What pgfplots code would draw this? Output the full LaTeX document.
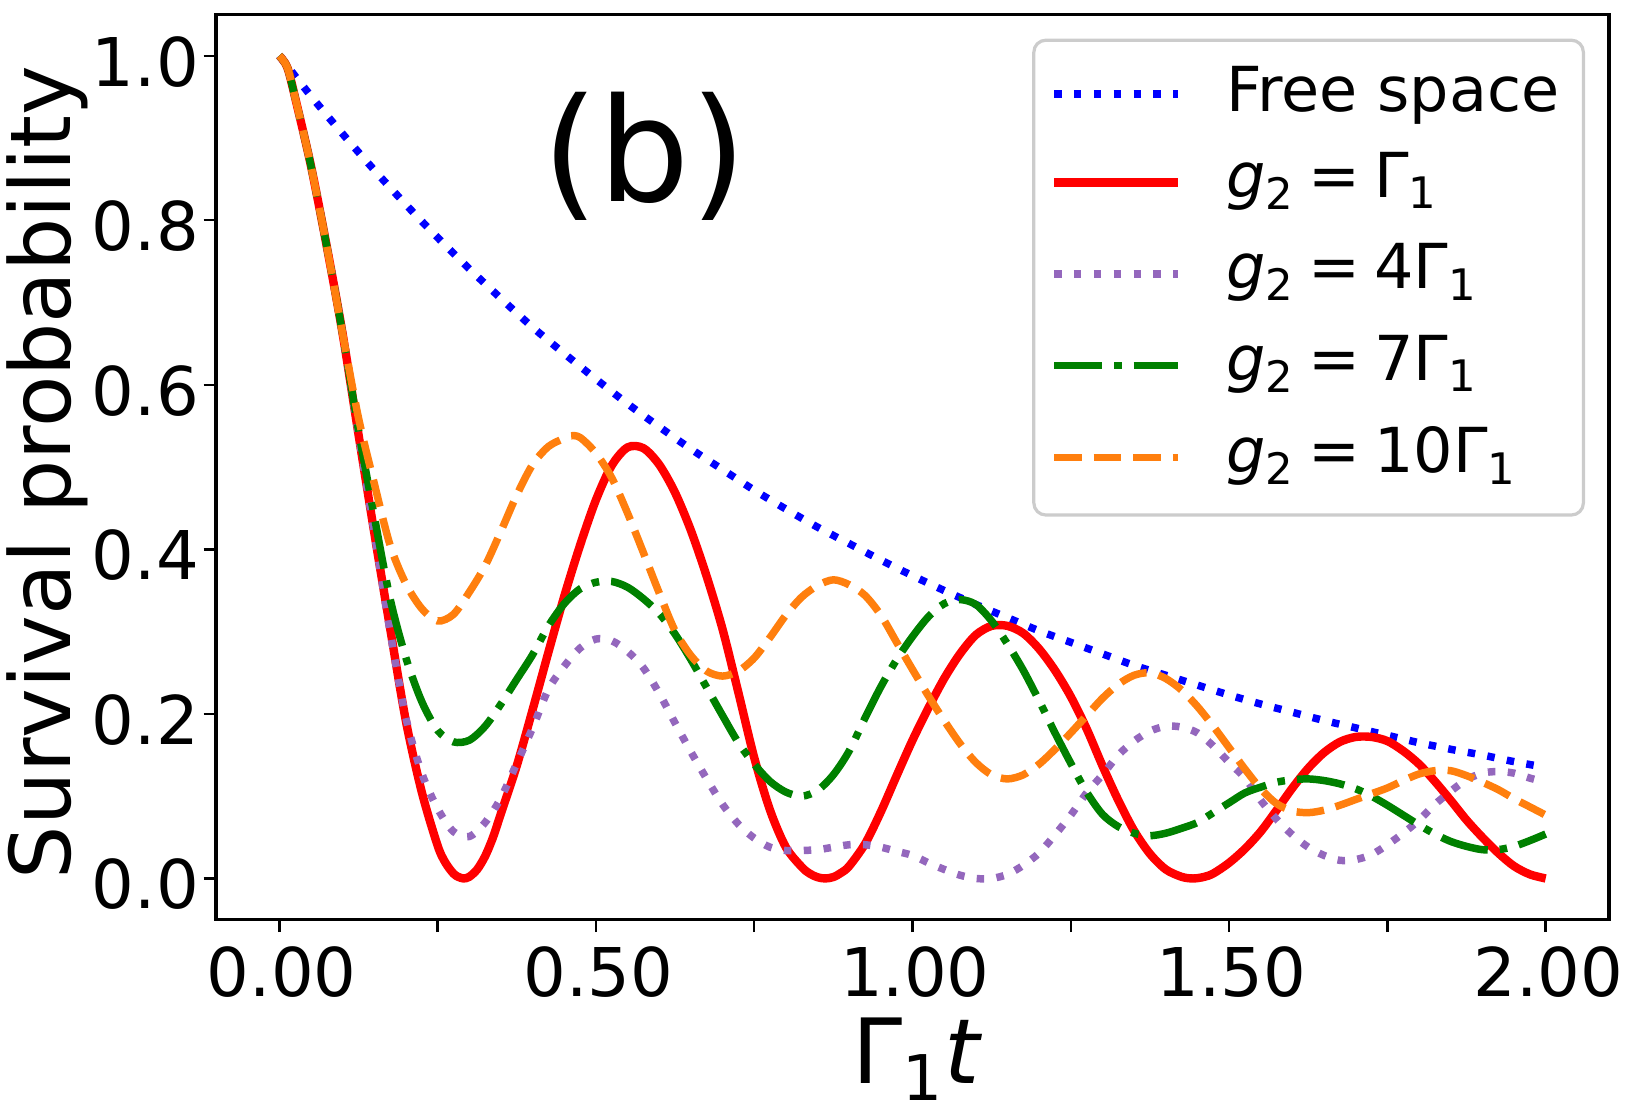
\documentclass[border=0pt]{standalone}
\usepackage{fontspec}
\setmainfont{DejaVu Sans}
\usepackage{pgfplots}
\pgfplotsset{compat=1.18}
\definecolor{tabpurple}{HTML}{9467BD}
\definecolor{taborange}{HTML}{FF7F0E}
\definecolor{mgreen}{HTML}{008000}
\newcommand{\gl}[1]{\rule[-4pt]{0pt}{15pt}\textit{g}\textsubscript{2}\hspace{0.22em}=\hspace{0.22em}#1Γ\textsubscript{1}}
\begin{document}
\begin{tikzpicture}
\begin{axis}[
  scale only axis, width=348.25pt, height=226.25pt,
  xmin=-0.1, xmax=2.1, ymin=-0.05, ymax=1.05,
  xtick={0,0.25,...,2}, xticklabels={0.00,,0.50,,1.00,,1.50,,2.00},
  ytick={0,0.2,0.4,0.6,0.8,1.0}, yticklabels={0.0,0.2,0.4,0.6,0.8,1.0},
  xtick pos=lower, ytick pos=left, tick align=outside,
  major tick length=3.1pt, tick style={line width=0.6pt, black},
  axis line style={line width=0.9pt},
  ticklabel style={font=\fontsize{16.8}{19}\selectfont},
  xticklabel style={xshift=0.6pt},
  yticklabel style={inner xsep=1pt, yshift=-1.5pt},
  xlabel={Γ\textsubscript{1}\textit{t}}, ylabel={Survival probability},
  xlabel style={font=\fontsize{22.5}{26}\selectfont, inner sep=0pt, at={(axis description cs:0.5037,-0.1078)}, anchor=north},
  ylabel style={font=\fontsize{21}{25}\selectfont, at={(axis description cs:-0.082,0.494)}, anchor=south},
  legend cell align=left,
  legend image code/.code={\draw[#1] (0pt,0pt) -- (31pt,0pt);},
  legend style={at={(1,1)}, anchor=north east, xshift=-6pt, yshift=-6pt,
    draw=black!20, line width=0.8pt, rounded corners=3pt,
    inner xsep=4pt, inner ysep=4.6pt,
    font=\fontsize{15.5}{18}\selectfont, row sep=3.6pt,
    nodes={inner ysep=2pt, text depth=},
    /tikz/every odd column/.append style={column sep=9pt}},
]
\addplot[blue, line width=1.87pt, dash pattern=on 1.87pt off 3.1pt, smooth] coordinates {
(0,1.000)(0.05,0.951)(0.1,0.905)(0.15,0.861)(0.2,0.819)(0.25,0.779)(0.3,0.741)(0.35,0.705)(0.4,0.670)(0.45,0.638)(0.5,0.607)(0.55,0.577)(0.6,0.549)(0.65,0.522)(0.7,0.497)(0.75,0.472)(0.8,0.449)(0.85,0.427)(0.9,0.407)(0.95,0.387)(1.0,0.368)(1.05,0.350)(1.1,0.333)(1.15,0.317)(1.2,0.301)(1.25,0.287)(1.3,0.273)(1.35,0.259)(1.4,0.247)(1.45,0.235)(1.5,0.223)(1.55,0.212)(1.6,0.202)(1.65,0.192)(1.7,0.183)(1.75,0.174)(1.8,0.165)(1.85,0.157)(1.9,0.150)(1.95,0.142)(2.0,0.135)};
\addlegendentry{\raisebox{0pt}[\height][2.4pt]{Free space}}
\addplot[red, line width=2.1pt, smooth] coordinates {
(0,1.0)(0.0125,0.986)(0.025,0.949)(0.05,0.866)(0.075,0.768)(0.1,0.662)(0.125,0.54)(0.15,0.42)(0.175,0.304)(0.2,0.191)(0.225,0.105)(0.25,0.04)(0.2625,0.019)(0.275,0.006)(0.2825,0.002)(0.291,0.0)(0.3,0.002)(0.3125,0.011)(0.325,0.027)(0.3375,0.05)(0.35,0.079)(0.375,0.137)(0.4,0.205)(0.425,0.275)(0.45,0.343)(0.475,0.405)(0.5,0.46)(0.525,0.502)(0.55,0.524)(0.575,0.523)(0.6,0.503)(0.625,0.469)(0.65,0.423)(0.675,0.367)(0.7,0.303)(0.725,0.226)(0.75,0.147)(0.775,0.083)(0.8,0.038)(0.825,0.014)(0.8375,0.006)(0.85,0.0015)(0.862,0.0)(0.875,0.0017)(0.8875,0.007)(0.9,0.015)(0.925,0.042)(0.95,0.081)(0.975,0.125)(1.0,0.168)(1.025,0.207)(1.05,0.243)(1.075,0.273)(1.1,0.296)(1.125,0.307)(1.15,0.307)(1.175,0.298)(1.2,0.279)(1.225,0.253)(1.25,0.221)(1.275,0.182)(1.3,0.137)(1.325,0.095)(1.35,0.058)(1.375,0.03)(1.4,0.011)(1.425,0.002)(1.443,0.0)(1.46,0.0018)(1.475,0.006)(1.5,0.019)(1.525,0.036)(1.55,0.057)(1.575,0.083)(1.6,0.11)(1.625,0.134)(1.65,0.153)(1.675,0.166)(1.7,0.172)(1.725,0.172)(1.75,0.167)(1.775,0.155)(1.8,0.139)(1.825,0.118)(1.85,0.095)(1.875,0.071)(1.9,0.05)(1.925,0.031)(1.95,0.015)(1.975,0.005)(2.0,0.0)};
\addlegendentry{\gl{}}
\addplot[tabpurple, line width=1.87pt, dash pattern=on 1.87pt off 3.1pt, smooth] coordinates {
(0,1.0)(0.0125,0.986)(0.025,0.949)(0.05,0.866)(0.075,0.768)(0.1,0.662)(0.125,0.54)(0.15,0.42)(0.175,0.30)(0.2,0.195)(0.225,0.128)(0.25,0.085)(0.275,0.057)(0.3,0.051)(0.325,0.068)(0.35,0.098)(0.375,0.14)(0.4,0.183)(0.425,0.23)(0.45,0.258)(0.475,0.28)(0.5,0.291)(0.525,0.289)(0.55,0.276)(0.575,0.256)(0.6,0.225)(0.625,0.189)(0.65,0.154)(0.675,0.121)(0.7,0.09)(0.725,0.066)(0.75,0.049)(0.775,0.038)(0.8,0.034)(0.825,0.034)(0.85,0.035)(0.875,0.038)(0.9,0.041)(0.925,0.041)(0.95,0.038)(0.975,0.033)(1.0,0.028)(1.025,0.019)(1.05,0.011)(1.075,0.004)(1.1,0.0)(1.125,0.0)(1.15,0.005)(1.175,0.016)(1.2,0.031)(1.225,0.053)(1.25,0.077)(1.275,0.104)(1.3,0.126)(1.325,0.15)(1.35,0.167)(1.375,0.179)(1.4,0.185)(1.425,0.184)(1.45,0.177)(1.475,0.161)(1.5,0.141)(1.525,0.122)(1.55,0.095)(1.575,0.072)(1.6,0.053)(1.625,0.038)(1.65,0.028)(1.675,0.022)(1.7,0.023)(1.725,0.029)(1.75,0.041)(1.775,0.055)(1.8,0.071)(1.825,0.09)(1.85,0.106)(1.875,0.12)(1.9,0.128)(1.925,0.13)(1.95,0.128)(1.975,0.122)(2.0,0.117)};
\addlegendentry{\gl{4}}
\addplot[mgreen, line width=1.87pt, dash pattern=on 12pt off 3pt on 1.87pt off 3pt, smooth] coordinates {
(0,1.0)(0.0125,0.986)(0.025,0.949)(0.05,0.866)(0.075,0.768)(0.1,0.662)(0.125,0.545)(0.15,0.44)(0.175,0.34)(0.2,0.268)(0.225,0.215)(0.25,0.18)(0.275,0.166)(0.3,0.168)(0.325,0.185)(0.35,0.212)(0.375,0.242)(0.4,0.272)(0.425,0.307)(0.45,0.334)(0.475,0.352)(0.5,0.36)(0.525,0.361)(0.55,0.354)(0.575,0.34)(0.6,0.322)(0.625,0.297)(0.65,0.266)(0.675,0.232)(0.7,0.198)(0.725,0.165)(0.75,0.139)(0.775,0.118)(0.8,0.105)(0.825,0.100)(0.85,0.107)(0.875,0.126)(0.9,0.155)(0.925,0.195)(0.95,0.233)(0.975,0.266)(1.0,0.294)(1.025,0.318)(1.05,0.334)(1.075,0.339)(1.1,0.333)(1.125,0.313)(1.15,0.285)(1.175,0.253)(1.2,0.216)(1.225,0.177)(1.25,0.14)(1.275,0.105)(1.3,0.078)(1.325,0.063)(1.35,0.055)(1.375,0.052)(1.4,0.055)(1.425,0.061)(1.45,0.068)(1.475,0.08)(1.5,0.092)(1.525,0.104)(1.55,0.111)(1.575,0.117)(1.6,0.12)(1.625,0.121)(1.65,0.119)(1.675,0.115)(1.7,0.109)(1.725,0.1)(1.75,0.089)(1.775,0.077)(1.8,0.065)(1.825,0.054)(1.85,0.045)(1.875,0.039)(1.9,0.035)(1.925,0.035)(1.95,0.039)(1.975,0.046)(2.0,0.054)};
\addlegendentry{\gl{7}}
\addplot[taborange, line width=1.87pt, dash pattern=on 6.9pt off 3pt, smooth] coordinates {
(0,1.0)(0.0125,0.986)(0.025,0.949)(0.05,0.866)(0.075,0.768)(0.1,0.662)(0.125,0.56)(0.15,0.48)(0.175,0.405)(0.2,0.358)(0.225,0.328)(0.25,0.313)(0.275,0.321)(0.3,0.348)(0.325,0.38)(0.35,0.422)(0.375,0.466)(0.4,0.503)(0.425,0.525)(0.45,0.535)(0.46,0.538)(0.475,0.536)(0.5,0.517)(0.525,0.487)(0.55,0.444)(0.575,0.396)(0.6,0.347)(0.625,0.301)(0.65,0.271)(0.675,0.252)(0.7,0.246)(0.725,0.252)(0.75,0.268)(0.775,0.293)(0.8,0.32)(0.825,0.342)(0.85,0.356)(0.875,0.363)(0.9,0.357)(0.925,0.344)(0.95,0.32)(0.975,0.287)(1.0,0.254)(1.025,0.222)(1.05,0.192)(1.075,0.164)(1.1,0.141)(1.125,0.126)(1.15,0.121)(1.175,0.126)(1.2,0.139)(1.225,0.157)(1.25,0.177)(1.275,0.198)(1.3,0.219)(1.325,0.236)(1.35,0.247)(1.375,0.250)(1.4,0.243)(1.425,0.229)(1.45,0.209)(1.475,0.185)(1.5,0.159)(1.525,0.133)(1.55,0.109)(1.575,0.091)(1.6,0.082)(1.625,0.080)(1.65,0.083)(1.675,0.089)(1.7,0.096)(1.725,0.103)(1.75,0.110)(1.775,0.119)(1.8,0.127)(1.825,0.131)(1.85,0.131)(1.875,0.125)(1.9,0.117)(1.925,0.108)(1.95,0.097)(1.975,0.087)(2.0,0.077)};
\addlegendentry{\gl{10}}
\node[font=\fontsize{36}{42}\selectfont] at (axis cs:0.577,0.878) {(b)};
\end{axis}
\pgfresetboundingbox
\path[use as bounding box] (-54pt,-46.25pt) rectangle (353pt,229.9pt);
\end{tikzpicture}
\end{document}
